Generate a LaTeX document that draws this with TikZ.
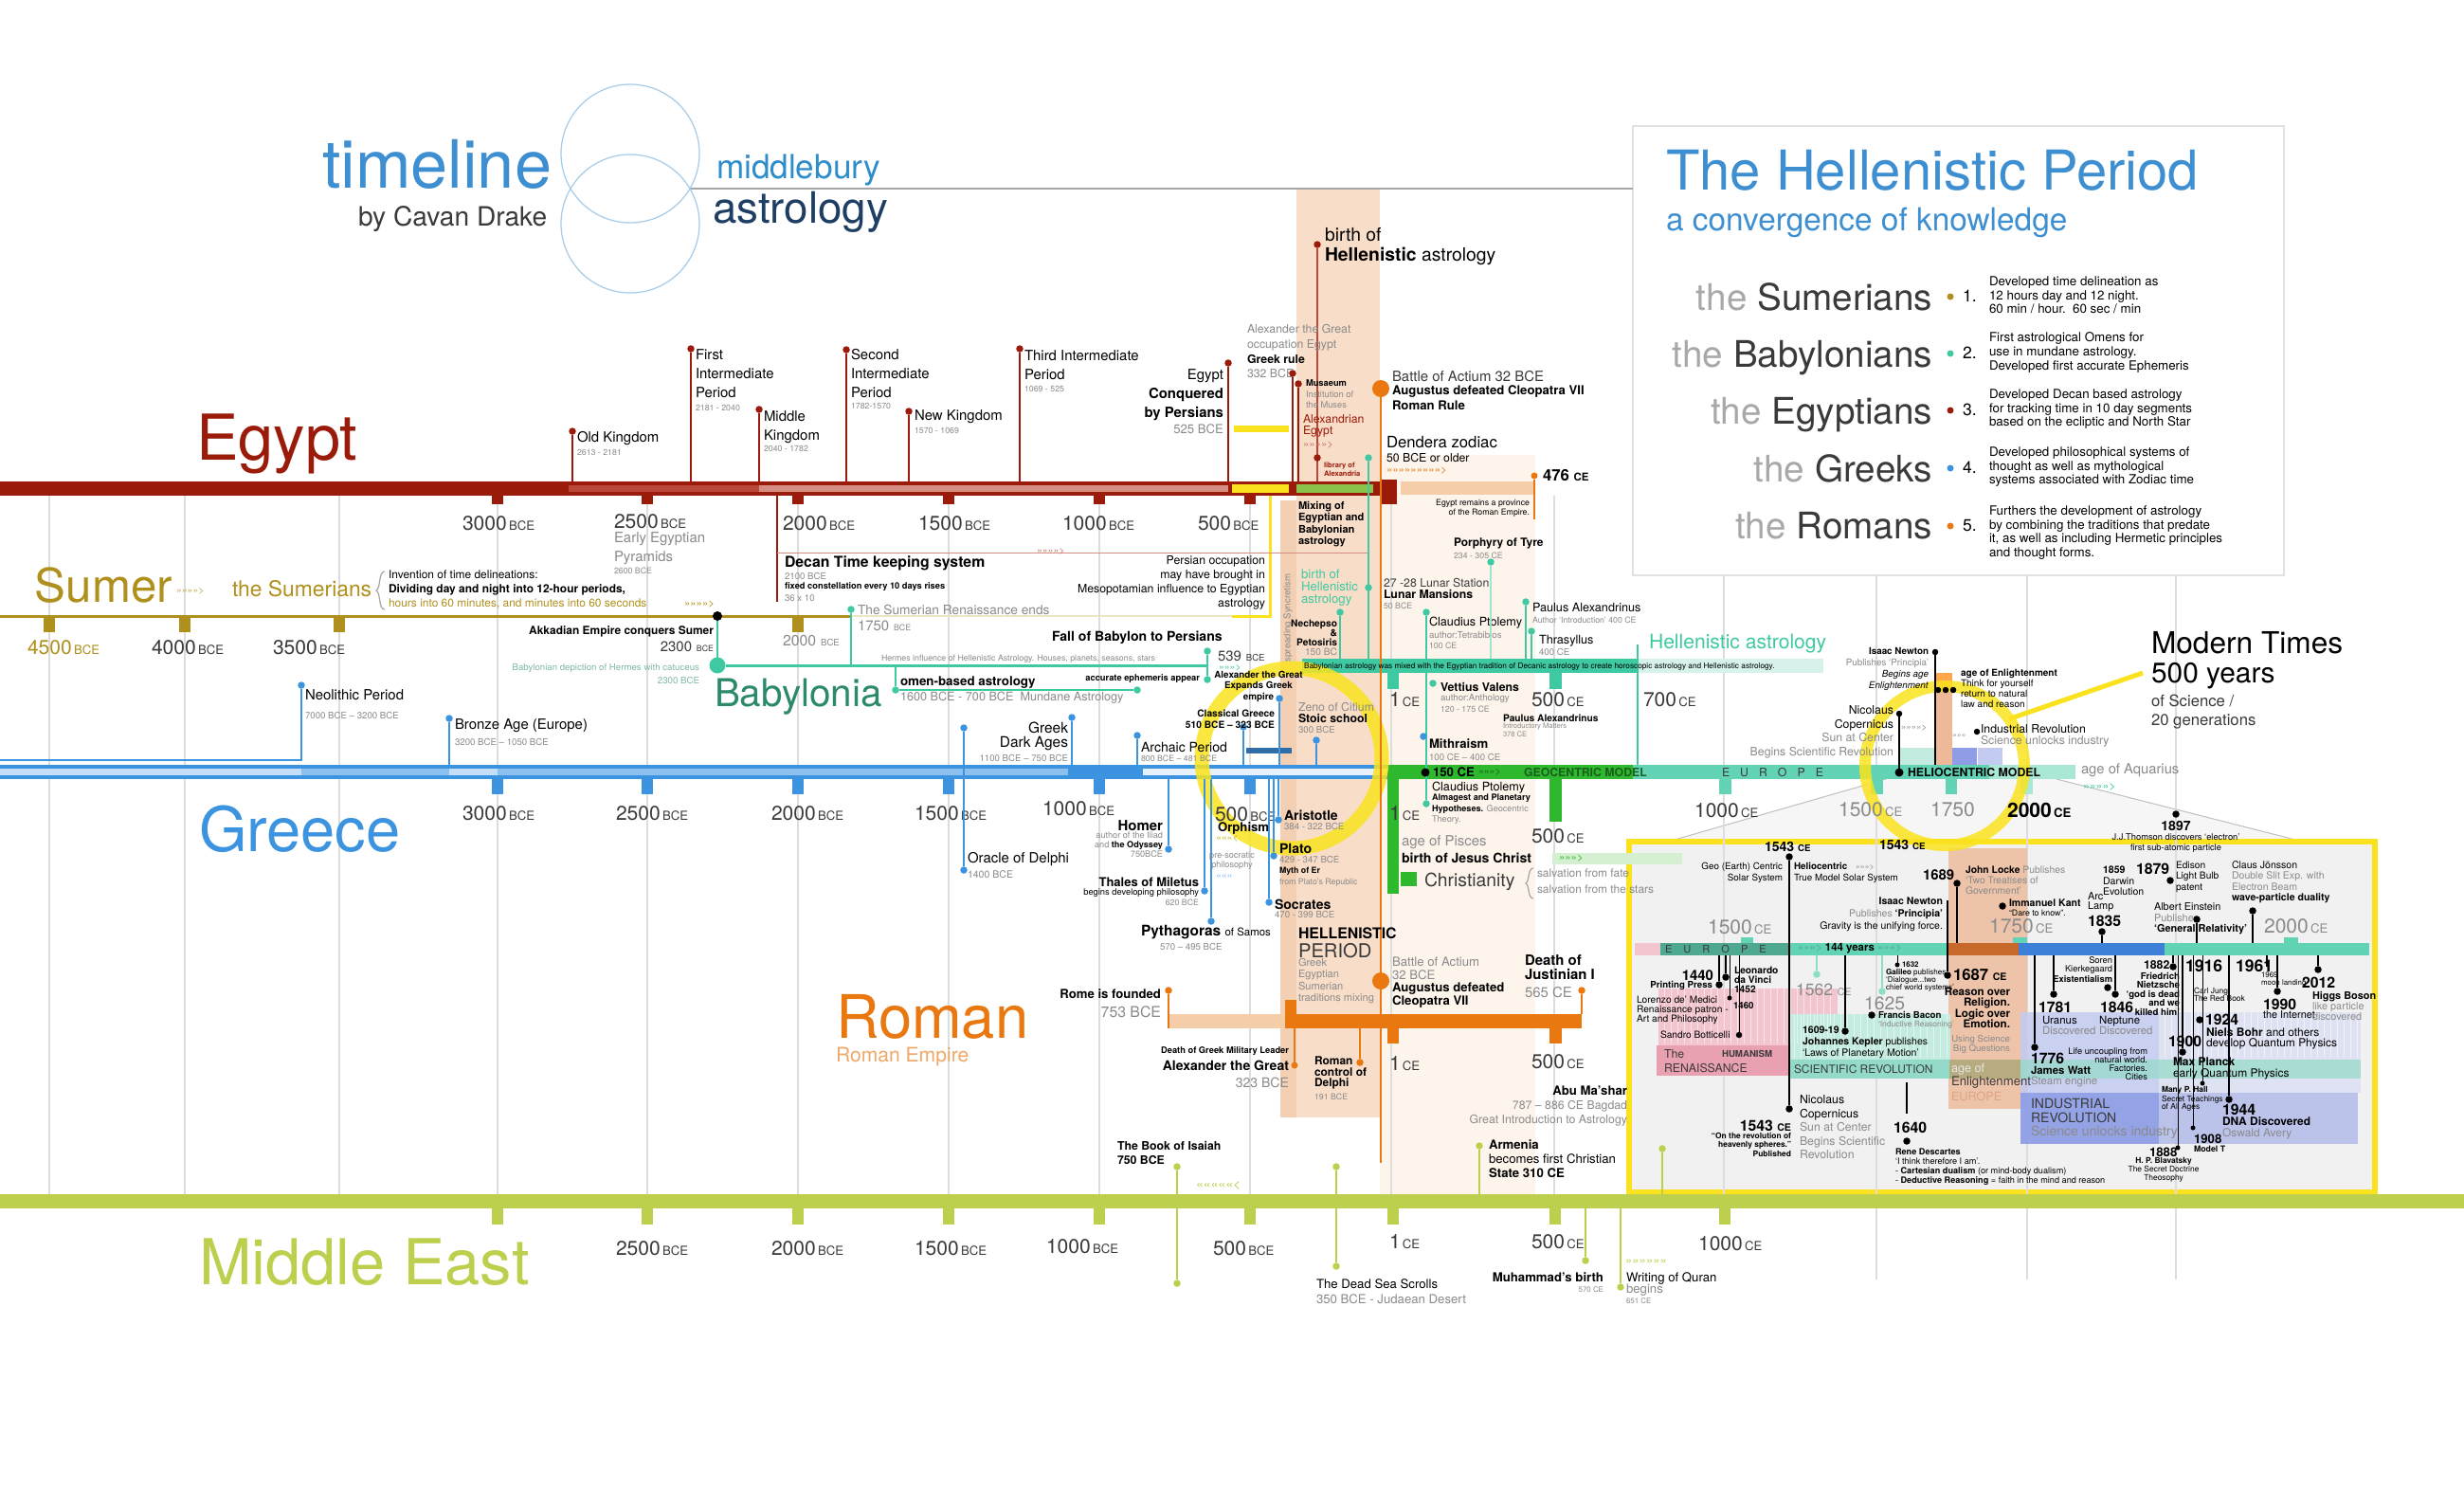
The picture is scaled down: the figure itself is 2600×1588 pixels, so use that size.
\documentclass[tikz,border=0pt]{standalone}
\usepackage{fontspec}
\setmainfont{TeX Gyre Heros}
\usetikzlibrary{positioning}

\definecolor{egypt}{HTML}{9B1B0B}
\definecolor{egyptmid}{HTML}{B9483B}
\definecolor{egyptlt}{HTML}{D58E84}
\definecolor{sumer}{HTML}{B0901C}
\definecolor{sumerpale}{HTML}{EDE4C4}
\definecolor{greece}{HTML}{3C93DF}
\definecolor{greecelt}{HTML}{8CC0EE}
\definecolor{greecepale}{HTML}{C4DFF7}
\definecolor{greecewhite}{HTML}{E6F1FB}
\definecolor{greecedark}{HTML}{2F6FA8}
\definecolor{babyl}{HTML}{3FC9A2}
\definecolor{babyltxt}{HTML}{2B8A68}
\definecolor{babylpale}{HTML}{D6F2EA}
\definecolor{roman}{HTML}{E8780F}
\definecolor{romanlt}{HTML}{F6CDA9}
\definecolor{romantxt}{HTML}{F0A868}
\definecolor{mideast}{HTML}{BDCF4C}
\definecolor{salmon}{HTML}{F8DDC8}
\definecolor{salmondk}{HTML}{F3CFB3}
\definecolor{paleband}{HTML}{FDF4EC}
\definecolor{hgreen}{HTML}{2DB82D}
\definecolor{hgreendk}{HTML}{1B5E1B}
\definecolor{hgreenpale}{HTML}{D5F0D0}
\definecolor{leafgreen}{HTML}{8BC34A}
\definecolor{euroteal}{HTML}{63D3B5}
\definecolor{eurolt}{HTML}{A9E8D7}
\definecolor{eurodark}{HTML}{4FA890}
\definecolor{yellowc}{HTML}{FAE31E}
\definecolor{titleblue}{HTML}{3D8FD1}
\definecolor{midblue}{HTML}{2E8DCB}
\definecolor{astroblue}{HTML}{1F3E63}
\definecolor{circblue}{HTML}{A8CDEA}
\definecolor{gridgray}{HTML}{DDDDDD}
\definecolor{boxgray}{HTML}{E2E2E2}
\definecolor{txtgray}{HTML}{8A8A8A}
\definecolor{ltgray}{HTML}{A8A8A8}
\definecolor{dkgray}{HTML}{3A3A3A}
\definecolor{boxfill}{HTML}{F1F1F1}
\definecolor{trapfill}{HTML}{F6F6F6}
\definecolor{pinkc}{HTML}{F3C6CF}
\definecolor{pinkdk}{HTML}{E9A0B0}
\definecolor{mintc}{HTML}{C3EBDF}
\definecolor{mintdk}{HTML}{93DBC8}
\definecolor{enlsalmon}{HTML}{EDB999}
\definecolor{orangedk}{HTML}{C8692C}
\definecolor{bluebar}{HTML}{3C80D8}
\definecolor{indlt}{HTML}{C3CBF0}
\definecolor{inddk}{HTML}{8F9DE6}
\definecolor{indmid}{HTML}{B3BCEB}
\definecolor{indpale}{HTML}{DCE0F3}
\definecolor{olivec}{HTML}{B7AC80}

\newcommand{\fnt}[2]{\fontsize{#1}{#2}\selectfont}
\newcommand{\yrlab}[2]{{\fnt{12}{12}#1}{\fnt{7.5}{7.5}\,#2}}

\begin{document}
\begin{tikzpicture}[x=0.2mm, y=-0.2mm,
    every node/.style={inner sep=0pt, outer sep=0pt},
    lt/.style={anchor=west},
    rt/.style={anchor=east},
    nw/.style={anchor=north west, align=left},
    ne/.style={anchor=north east, align=right},
    pnt/.style={circle, fill, minimum size=1.5mm},
    sdot/.style={circle, fill, minimum size=1mm},
    bdot/.style={circle, fill, minimum size=3.6mm},
    ln/.style={line width=0.4mm},
    gline/.style={draw=gridgray, line width=0.3mm},
    hatch/.style={draw=white, line width=0.15mm, opacity=0.55},
    brace/.style={draw=ltgray, line width=0.25mm},
    gr/.style={text=txtgray}]

\useasboundingbox (0,0) rectangle (2600,1588);
\fill[white] (0,0) rectangle (2600,1588);

% levels of the bars
\coordinate (egy) at (0,508);
\coordinate (sum) at (0,650);
\coordinate (bab) at (0,702);
\coordinate (mix) at (0,695);
\coordinate (grc) at (0,807);
\coordinate (grcb) at (0,822);
\coordinate (rom) at (0,1070);
\coordinate (romb) at (0,1085);
\coordinate (mde) at (0,1260);
\coordinate (eur) at (0,995);
\coordinate (eurb) at (0,1008);

% background bands
\fill[salmon] (1368,200) rectangle (1456,1179);
\fill[salmondk] (1351,528) rectangle (1368,1179);
\fill[paleband] (1456,480) rectangle (1620,1260);

% hellenistic box
\node[draw=boxgray, line width=0.4mm, fill=white, minimum width=137.4mm, minimum height=94.8mm, anchor=north west] (hbox) at (1723,133) {};

% modern times box
\fill[trapfill] (1760,888) -- (1990,822) -- (2170,822) -- (2430,888) -- cycle;
\draw[gray!50, line width=0.2mm] (1760,888) -- (1990,822);
\draw[gray!50, line width=0.2mm] (2170,822) -- (2430,888);
\node[draw=yellowc, fill=boxfill, line width=1.2mm, minimum width=157.4mm, minimum height=74mm, anchor=north west] (mbox) at (1719,888) {};

% grid
\foreach \gx in {52,195,358,525,683,842,1001,1160,1319,1468,1640}
  \draw[gline] (\gx,523) -- (\gx,1260);
\draw[gline] (1819,607) -- (1819,1260);
\foreach \gx in {1980,2139,2296}
  \draw[gline] (\gx,607) -- (\gx,1350);

% regions inside the modern box
\fill[enlsalmon, opacity=0.8] (2056,895) rectangle (2139,1170);
\fill[pinkc] (1750,1043) rectangle (1939,1135);
\fill[pinkdk] (1748,1103) rectangle (1887,1135);
\fill[mintc] (1889,1070) rectangle (2058,1137);
\fill[mintdk] (1889,1118) rectangle (2058,1138);
\fill[olivec] (2057,1118) rectangle (2132,1138);
\fill[indlt, opacity=0.85] (2132,1068) rectangle (2278,1207);
\fill[inddk, opacity=0.9] (2132,1153) rectangle (2278,1207);
\fill[indpale, opacity=0.85] (2278,1068) rectangle (2491,1153);
\fill[indmid, opacity=0.85] (2278,1153) rectangle (2488,1207);
\fill[mintdk, opacity=0.7] (2132,1118) rectangle (2491,1138);
\foreach \hx in {1756,1763,...,1935}
  \draw[hatch] (\hx,1043) -- (\hx,1101);
\foreach \hx in {1893,1900,...,2054}
  \draw[hatch] (\hx,1070) -- (\hx,1116);
\foreach \hx in {2284,2291,...,2488}
  \draw[hatch] (\hx,1068) -- (\hx,1116);
\fill[pinkc] (1725,995) rectangle (1752,1008);
\fill[eurodark] (1752,995) rectangle (1887,1008);
\fill[euroteal] (1887,995) rectangle (2056,1008);
\fill[orangedk] (2056,995) rectangle (2130,1008);
\fill[bluebar] (2130,995) rectangle (2284,1008);
\fill[euroteal] (2284,995) rectangle (2500,1008);
\fill[euroteal] (1837,989) rectangle (1850,995);
\fill[euroteal] (2124,989) rectangle (2139,995);
\fill[euroteal] (2410,989) rectangle (2425,995);

% Egypt bar
\fill[egypt] (0,508) rectangle (1474,523);
\fill[egyptmid] (600,512) rectangle (801,519);
\fill[egyptlt] (801,512) rectangle (1296,519);
\fill[yellowc] (1300,511) rectangle (1360,520);
\fill[leafgreen] (1368,511) rectangle (1449,520);
\fill[egypt] (1456,506) rectangle (1474,532);
\fill[romanlt] (1478,508) rectangle (1619,522);
\foreach \tx in {525,683,842,1001,1160,1319}
  \fill[egypt] ({\tx-6},523) rectangle ({\tx+6},532);

% Sumer line
\draw[sumer, line width=0.6mm] (0,650) -- (898,650);
\draw[sumerpale, line width=0.4mm] (898,650) -- (1300,650);
\foreach \tx in {52,195,358,842}
  \fill[sumer] ({\tx-6},650) rectangle ({\tx+6},667);

% Greece bar
\fill[greece] (0,807) rectangle (1464,822);
\fill[greecepale] (0,811) rectangle (318,818);
\fill[greecelt] (318,811) rectangle (474,818);
\fill[greecepale] (474,811) rectangle (525,818);
\fill[greecelt] (525,811) rectangle (1127,818);
\fill[greecewhite] (1206,811) rectangle (1464,818);
\foreach \tx in {525,683,842,1001,1160,1319}
  \fill[greece] ({\tx-6},822) rectangle ({\tx+6},838);
\fill[greecedark] (1315,789) rectangle (1363,795);

% geocentric / europe
\fill[hgreen] (1464,807) rectangle (1723,822);
\fill[hgreen] (1464,822) rectangle (1476,943);
\fill[hgreen] (1635,822) rectangle (1648,867);
\fill[euroteal] (1723,807) rectangle (2099,822);
\fill[eurolt] (2099,807) rectangle (2190,822);
\fill[euroteal] (1814,822) rectangle (1827,838);
\fill[euroteal] (1974,822) rectangle (1987,838);
\fill[euroteal] (2053,822) rectangle (2065,838);
\fill[eurolt] (2132,822) rectangle (2145,838);
\fill[mintc] (2004,789) rectangle (2042,807);
\fill[enlsalmon] (2042,710) rectangle (2060,807);
\fill[orange!70] (2042,710) rectangle (2060,728);
\fill[inddk] (2060,789) rectangle (2086,807);
\fill[indlt] (2087,789) rectangle (2113,807);

% mixing bar
\fill[babyl] (1374,695) rectangle (1729,710);
\fill[babylpale] (1729,695) rectangle (1924,710);
\fill[babyl] (1464,710) rectangle (1476,727);
\fill[babyl] (1635,710) rectangle (1648,727);

% Roman bar
\fill[romanlt] (1233,1070) rectangle (1356,1085);
\fill[roman] (1356,1070) rectangle (1669,1085);
\fill[roman] (1356,1055) rectangle (1368,1070);
\fill[roman] (1464,1085) rectangle (1476,1101);
\fill[roman] (1635,1085) rectangle (1648,1101);

% Middle East bar
\fill[mideast] (0,1260) rectangle (2600,1275);
\foreach \tx in {525,683,842,1001,1160,1319,1470,1641,1820}
  \fill[mideast] ({\tx-6},1275) rectangle ({\tx+6},1292);

% yellow marks
\fill[yellowc] (1302,449) rectangle (1360,456);
\draw[yellowc, line width=0.6mm] (1340,523) -- (1340,650) -- (1300,650);
\node[circle, draw=yellowc, line width=3mm, minimum size=38mm, opacity=0.85] (ring1) at (1363,800) {};
\node[circle, draw=yellowc, line width=2.4mm, minimum size=33.6mm, opacity=0.85] (ring2) at (2052,808) {};
\coordinate (mtl) at (2261,710);
\draw[yellowc, line width=1mm] (ring2.36) -- (mtl);

% title
\node[anchor=base west, text=titleblue, font=\fnt{40}{40}] (tl) at (340,198) {timeline};
\node[anchor=base west, text=dkgray, font=\fnt{16}{16}] (by) at (378,238) {by Cavan Drake};
\node[circle, draw=circblue, line width=0.25mm, minimum size=29.2mm] (c1) at (665,162) {};
\node[circle, draw=circblue, line width=0.25mm, minimum size=29.2mm] (c2) at (665,236) {};
\node[anchor=base west, text=midblue, font=\fnt{20}{20}] (mb) at (756,188) {middlebury};
\node[anchor=base west, text=astroblue, font=\fnt{26}{26}] (as) at (752,235) {astrology};
\coordinate (tl0) at (729,199);
\draw[gray!70, line width=0.3mm] (tl0) -- (tl0 -| hbox.west);

% box contents
\node[anchor=base west, text=titleblue, font=\fnt{33}{33}] (hp) at (1758,200) {The Hellenistic Period};
\node[anchor=base west, text=titleblue, font=\fnt{19}{19}] (cv) at (1758,243) {a convergence of knowledge};
\node[anchor=base east, font=\fnt{22}{22}] (p1) at (2039,327) {{\color{ltgray}the} {\color{dkgray}Sumerians}};
\node[anchor=base east, font=\fnt{22}{22}] (p2) at (2039,387) {{\color{ltgray}the} {\color{dkgray}Babylonians}};
\node[anchor=base east, font=\fnt{22}{22}] (p3) at (2039,447) {{\color{ltgray}the} {\color{dkgray}Egyptians}};
\node[anchor=base east, font=\fnt{22}{22}] (p4) at (2039,508) {{\color{ltgray}the} {\color{dkgray}Greeks}};
\node[anchor=base east, font=\fnt{22}{22}] (p5) at (2039,568) {{\color{ltgray}the} {\color{dkgray}Romans}};
\node[circle, fill=sumer, minimum size=1.4mm] (d1) at (2058,313) {};
\node[circle, fill=babyl, minimum size=1.4mm] (d2) at (2058,373) {};
\node[circle, fill=egypt, minimum size=1.4mm] (d3) at (2058,433) {};
\node[circle, fill=greece, minimum size=1.4mm] (d4) at (2058,494) {};
\node[circle, fill=roman, minimum size=1.4mm] (d5) at (2058,555) {};
\node[anchor=base west, font=\fnt{10}{10}] (n1) at (2071,318) {1.};
\node[anchor=base west, font=\fnt{10}{10}] (n2) at (2071,378) {2.};
\node[anchor=base west, font=\fnt{10}{10}] (n3) at (2071,438) {3.};
\node[anchor=base west, font=\fnt{10}{10}] (n4) at (2071,499) {4.};
\node[anchor=base west, font=\fnt{10}{10}] (n5) at (2071,560) {5.};
\node[nw, font=\fnt{7.6}{8.3}] (x1) at (2099,292) {Developed time delineation as\\12 hours day and 12 night.\\60 min / hour.\ \ 60 sec / min};
\node[nw, font=\fnt{7.6}{8.3}] (x2) at (2099,351) {First astrological Omens for\\use in mundane astrology.\\Developed first accurate Ephemeris};
\node[nw, font=\fnt{7.6}{8.3}] (x3) at (2099,411) {Developed Decan based astrology\\for tracking time in 10 day segments\\based on the ecliptic and North Star};
\node[nw, font=\fnt{7.6}{8.3}] (x4) at (2099,472) {Developed philosophical systems of\\thought as well as mythological\\systems associated with Zodiac time};
\node[nw, font=\fnt{7.6}{8.3}] (x5) at (2099,534) {Furthers the development of astrology\\by combining the traditions that predate\\it, as well as including Hermetic principles\\and thought forms.};

% ---- Egypt ----
\node[anchor=base west, text=egypt, font=\fnt{38}{38}] (eg) at (207,485) {Egypt};
\node[pnt, egypt] (ok) at (604,455) {};
\draw[egypt, ln] (ok) -- (ok |- egy);
\node[lt, font=\fnt{8.5}{10}] (okt) at (609,463) {Old Kingdom};
\node[lt, gr, font=\fnt{5}{6}] (oky) at (609,477) {2613 - 2181};
\node[pnt, egypt] (fi) at (729,368) {};
\draw[egypt, ln] (fi) -- (fi |- egy);
\node[nw, font=\fnt{8.5}{11.4}] (fit) at (734,369) {First\\Intermediate\\Period};
\node[lt, gr, font=\fnt{5}{6}] (fiy) at (734,430) {2181 - 2040};
\node[pnt, egypt] (mk) at (801,432) {};
\draw[egypt, ln] (mk) -- (mk |- egy);
\node[nw, font=\fnt{8.5}{11.4}] (mkt) at (806,434) {Middle\\Kingdom};
\node[lt, gr, font=\fnt{5}{6}] (mky) at (806,473) {2040 - 1782};
\node[pnt, egypt] (si) at (893,369) {};
\draw[egypt, ln] (si) -- (si |- egy);
\node[nw, font=\fnt{8.5}{11.4}] (sit) at (898,368) {Second\\Intermediate\\Period};
\node[lt, gr, font=\fnt{5}{6}] (siy) at (898,428) {1782-1570};
\node[pnt, egypt] (nk) at (959,434) {};
\draw[egypt, ln] (nk) -- (nk |- egy);
\node[lt, font=\fnt{8.5}{10}] (nkt) at (965,440) {New Kingdom};
\node[lt, gr, font=\fnt{5}{6}] (nky) at (965,454) {1570 - 1069};
\node[pnt, egypt] (ti) at (1076,368) {};
\draw[egypt, ln] (ti) -- (ti |- egy);
\node[nw, font=\fnt{8.5}{11.4}] (tit) at (1081,370) {Third Intermediate\\Period};
\node[lt, gr, font=\fnt{5}{6}] (tiy) at (1081,410) {1069 - 525};
\node[pnt, egypt] (ep) at (1296,383) {};
\draw[egypt, ln] (ep) -- (ep |- egy);
\node[ne, font=\fnt{8.5}{11.4}] (ept) at (1291,390) {Egypt\\\textbf{Conquered}\\\textbf{by Persians}};
\node[rt, gr, font=\fnt{7.5}{8}] (epy) at (1291,453) {525 BCE};

% birth of Hellenistic astrology
\node[pnt, egypt] (bh) at (1390,258) {};
\draw[egyptmid, ln] (bh) -- (bh |- egy);
\node[nw, font=\fnt{11}{12}] (bht) at (1398,240) {birth of\\\textbf{Hellenistic} astrology};
\node[nw, font=\fnt{7}{9.1}] (alo) at (1316,342) {{\color{txtgray}Alexander the Great}\\{\color{txtgray}occupation Egypt}\\\textbf{Greek rule}};
\node[lt, gr, font=\fnt{7}{8}] (aloy) at (1316,394) {332 BCE};
\node[pnt, egypt] (alp) at (1364,394) {};
\draw[egypt, ln] (alp) -- (alp |- egy);
\node[pnt, egypt] (mus) at (1370,405) {};
\draw[egypt, ln] (mus) -- (mus |- egy);
\node[nw, font=\fnt{5.3}{6.5}] (must) at (1378,401) {\textbf{Musaeum}\\{\color{txtgray}Institution of}\\{\color{txtgray}the Muses}};
\node[nw, text=egypt, font=\fnt{7}{6.8}] (alx) at (1375,438) {Alexandrian\\Egypt};
\node[lt, text=egypt!60, font=\fnt{6.5}{7}] (alxc) at (1375,470) {>>>>>>>>>};
\node[pnt, egypt] (lib) at (1390,483) {};
\node[nw, text=egypt, font=\bfseries\fnt{4.3}{4.8}] (libt) at (1397,488) {library of\\Alexandria};

% Actium, Dendera
\node[bdot, roman] (act1) at (1457,410) {};
\node[bdot, roman] (act2) at (1457,1035) {};
\coordinate (actb) at (1457,1227);
\draw[roman, ln] (act1) -- (act2) -- (actb);
\node[lt, font=\fnt{8.5}{9}] (act1t) at (1469,397) {{\color{dkgray}Battle of Actium 32 BCE}};
\node[nw, font=\bfseries\fnt{7.5}{9.1}] (act1u) at (1469,407) {Augustus defeated Cleopatra VII\\Roman Rule};
\node[lt, font=\fnt{9.5}{10}] (den) at (1463,467) {Dendera zodiac};
\node[lt, font=\fnt{7}{8}] (deny) at (1463,483) {50 BCE or older};
\node[lt, text=roman, font=\fnt{6.5}{7}] (denc) at (1463,497) {>>>>>>>>>>>>>>>>>>>};
\node[pnt, babyl] (tq1) at (1444,483) {};
\draw[babyl, ln] (tq1) -- (tq1 |- mix);
\node[pnt, babyl] (tq2) at (1444,620) {};
\node[sdot, roman, minimum size=1.4mm] (f476) at (1619,502) {};
\coordinate (f476b) at (1619,548);
\draw[roman, ln] (f476) -- (f476b);
\node[lt, font=\bfseries\fnt{9.5}{10}] (f476t) at (1628,502) {476 {\fnt{6.5}{7}CE}};
\node[ne, font=\fnt{5}{5.7}] (erp) at (1614,527) {Egypt remains a province\\of the Roman Empire.};
\node[nw, font=\bfseries\fnt{6.3}{7.1}] (mixt) at (1370,529) {Mixing of\\Egyptian and\\Babylonian\\astrology};

% Decan
\coordinate (dc0) at (820,523);
\coordinate (dc1) at (820,635);
\draw[egypt, ln] (dc0) -- (dc1);
\coordinate (dcl) at (820,583);
\coordinate (dcr) at (1443,583);
\draw[egyptlt, line width=0.2mm] (dcl) -- (dcr);
\node[lt, text=egypt!60, font=\fnt{6}{7}] (dcc) at (1094,582) {>>>>>>>>>};
\node[lt, font=\bfseries\fnt{9}{10}] (dct) at (828,594) {Decan Time keeping system};
\node[lt, gr, font=\fnt{5.5}{6}] (dcy) at (828,608) {2100 BCE};
\node[lt, font=\bfseries\fnt{5.3}{6}] (dcf) at (828,619) {fixed constellation every 10 days rises};
\node[lt, gr, font=\fnt{5.5}{6}] (dcx) at (828,631) {36 x 10};
\node[ne, font=\fnt{7}{8.4}] (pers) at (1335,587) {Persian occupation\\may have brought in\\Mesopotamian influence to Egyptian\\astrology};

% Egypt years
\node[lt, text=dkgray] (ey1) at (488,552) {\yrlab{3000}{BCE}};
\node[lt, text=dkgray] (ey2) at (648,550) {\yrlab{2500}{BCE}};
\node[nw, gr, font=\fnt{8.5}{11.4}] (pyr) at (648,562) {Early Egyptian\\Pyramids};
\node[lt, gr, font=\fnt{5}{6}] (pyry) at (648,602) {2600 BCE};
\node[lt, text=dkgray] (ey3) at (826,552) {\yrlab{2000}{BCE}};
\node[lt, text=dkgray] (ey4) at (969,552) {\yrlab{1500}{BCE}};
\node[lt, text=dkgray] (ey5) at (1121,552) {\yrlab{1000}{BCE}};
\node[lt, text=dkgray] (ey6) at (1264,552) {\yrlab{500}{BCE}};

% Hellenistic mixing area
\node[nw, text=babyl, font=\fnt{7.5}{7.4}] (bha) at (1373,601) {birth of\\Hellenistic\\astrology};
\node[rotate=90, gr, font=\fnt{5.5}{6}] (syn) at (1359,652) {spreading Syncretism};
\node[pnt, babyl] (nec) at (1414,646) {};
\draw[babyl, ln] (nec) -- (nec |- mix);
\node[ne, font=\fnt{5.8}{5.7}] (nect) at (1411,654) {\textbf{Nechepso}\\\textbf{\&}\\\textbf{Petosiris}\\{\color{txtgray}150 BC}};
\node[lt, text=dkgray, font=\fnt{7}{8}] (lun1) at (1460,615) {27 -28 Lunar Station};
\node[lt, font=\bfseries\fnt{7}{8}] (lun2) at (1460,627) {Lunar Mansions};
\node[lt, gr, font=\fnt{5}{6}] (lun3) at (1460,639) {50 BCE};
\node[pnt, babyl] (cp1) at (1505,646) {};
\node[pnt, babyl] (cp2) at (1505,848) {};
\draw[babyl, ln] (cp1) -- (cp2);
\node[lt, font=\fnt{7.2}{8}] (cp1t) at (1508,657) {Claudius Ptolemy};
\node[lt, gr, font=\fnt{5.5}{6}] (cp1a) at (1508,670) {author:Tetrabiblos};
\node[lt, gr, font=\fnt{5}{6}] (cp1y) at (1508,681) {100 CE};
\node[pnt, babyl] (pa1) at (1610,635) {};
\draw[babyl, ln] (pa1) -- (pa1 |- mix);
\node[lt, font=\fnt{7.2}{8}] (pa1t) at (1617,641) {Paulus Alexandrinus};
\node[lt, gr, font=\fnt{5}{6}] (pa1a) at (1617,654) {Author ‘Introduction’ 400 CE};
\node[pnt, babyl] (thr) at (1616,666) {};
\draw[babyl, ln] (thr) -- (thr |- mix);
\node[lt, font=\fnt{7.2}{8}] (thrt) at (1624,676) {Thrasyllus};
\node[lt, gr, font=\fnt{5.5}{6}] (thry) at (1624,688) {400 CE};
\node[lt, font=\bfseries\fnt{6.8}{7.5}] (por) at (1534,573) {Porphyry of Tyre};
\node[lt, gr, font=\fnt{5}{6}] (pory) at (1534,586) {234 - 305 CE};
\node[pnt, babyl] (porp) at (1573,593) {};
\draw[babyl!50, ln] (porp) -- (porp |- mix);
\node[lt, text=babyl, font=\fnt{12}{13}] (hla) at (1740,679) {Hellenistic astrology};
\coordinate (ha) at (1728,680);
\draw[babyl, ln] (ha) -- (ha |- grc);
\node[lt, font=\fnt{4.7}{5}] (mixx) at (1376,703) {Babylonian astrology was mixed with the Egyptian tradition of Decanic astrology to create horoscopic astrology and Hellenistic astrology.};
\node[lt, text=dkgray] (my1) at (1466,738) {\yrlab{1}{CE}};
\node[lt, text=dkgray] (my2) at (1616,738) {\yrlab{500}{CE}};
\node[lt, text=dkgray] (my3) at (1734,738) {\yrlab{700}{CE}};
\node[pnt, babyl] (vv) at (1512,721) {};
\node[lt, font=\bfseries\fnt{7}{8}] (vvt) at (1520,725) {Vettius Valens};
\node[lt, gr, font=\fnt{5.5}{6}] (vva) at (1520,737) {author:Anthology};
\node[lt, gr, font=\fnt{5}{6}] (vvy) at (1520,748) {120 - 175 CE};
\node[lt, font=\bfseries\fnt{5.8}{6}] (pa2) at (1586,758) {Paulus Alexandrinus};
\node[lt, gr, font=\fnt{4.3}{5}] (pa2a) at (1586,767) {Introductory Matters};
\node[lt, gr, font=\fnt{4.3}{5}] (pa2y) at (1586,775) {378 CE};
\node[lt, gr, font=\fnt{7}{8}] (zen) at (1370,746) {Zeno of Citium};
\node[lt, font=\bfseries\fnt{7}{8}] (zens) at (1370,758) {Stoic school};
\node[lt, gr, font=\fnt{5.5}{6}] (zeny) at (1370,770) {300 BCE};
\node[pnt, greece] (zenp) at (1389,781) {};
\draw[greece, ln] (zenp) -- (zenp |- grc);
\node[pnt, greece] (mit) at (1502,777) {};
\node[lt, font=\bfseries\fnt{7.5}{8}] (mitt) at (1508,785) {Mithraism};
\node[lt, gr, font=\fnt{5.5}{6}] (mity) at (1508,799) {100 CE – 400 CE};
\node[pnt, greece] (clg) at (1312,767) {};
\draw[greece, ln] (clg) -- (clg |- grc);
\node[ne, font=\bfseries\fnt{5.8}{6.8}] (clgt) at (1345,749) {Classical Greece\\510 BCE – 323 BCE};
\node[anchor=north, align=center, font=\bfseries\fnt{5.6}{6.6}] (axe) at (1328,708) {Alexander the Great\\Expands Greek\\empire};
\node[pnt, greece] (axep) at (1350,737) {};
\draw[greece, ln] (axep) -- (axep |- grc);
\node[lt, text=dkgray] (f539) at (1285,692) {{\fnt{8.5}{9}539} {\fnt{5.5}{6}BCE}};
\node[lt, text=babyl, font=\fnt{6}{7}] (f539c) at (1286,705) {>>>>>>>};

% geocentric / heliocentric
\node[pnt, black, minimum size=1.8mm] (geo1) at (1504,815) {};
\node[lt, font=\bfseries\fnt{7.5}{8}] (geo1t) at (1512,815) {150 CE};
\node[lt, text=hgreendk, font=\fnt{6}{7}] (geoc) at (1560,815) {>>>>>>>};
\node[lt, text=hgreendk, font=\bfseries\fnt{7}{8}] (geot) at (1608,815) {GEOCENTRIC MODEL};
\node[lt, text=dkgray, font=\fnt{7}{8}] (eut) at (1817,815) {E\hspace{2.2mm}U\hspace{2.2mm}R\hspace{2.2mm}O\hspace{2.2mm}P\hspace{2.2mm}E};
\node[pnt, black, minimum size=1.8mm] (hel1) at (2004,815) {};
\node[lt, font=\bfseries\fnt{7}{8}] (helt) at (2013,815) {HELIOCENTRIC MODEL};
\node[sdot, black, minimum size=1.3mm] (cop1) at (2004,753) {};
\draw[black, line width=0.25mm] (cop1) -- (hel1);
\node[ne, font=\fnt{7}{8.25}] (cop1t) at (1998,745) {Nicolaus\\Copernicus\\{\color{txtgray}Sun at Center}\\{\color{txtgray}Begins Scientific Revolution}};
\node[lt, gr, font=\fnt{5.5}{6}] (cop1c) at (2006,768) {>>>>>>>>>};
\node[lt, gr, font=\fnt{8.4}{9}] (aqu) at (2196,813) {age of Aquarius};
\node[lt, text=babyl, font=\fnt{7}{8}] (aquc) at (2198,830) {>>>>>>>>>};
\node[lt, text=dkgray] (gy1) at (1788,855) {\yrlab{1000}{CE}};
\node[lt, text=txtgray] (gy2) at (1940,854) {\yrlab{1500}{CE}};
\node[lt, text=txtgray] (gy3) at (2037,854) {\fnt{12}{12}1750};
\node[lt, font=\bfseries] (gy4) at (2118,855) {\yrlab{2000}{CE}};
\node[lt, font=\fnt{18}{19}] (mt1) at (2270,678) {Modern Times};
\node[lt, font=\fnt{17}{18}] (mt2) at (2270,713) {500 years};
\node[lt, text=dkgray, font=\fnt{9.5}{10}] (mt3) at (2270,739) {of Science /};
\node[lt, text=dkgray, font=\fnt{9.5}{10}] (mt4) at (2270,761) {20 generations};
\node[sdot, black, minimum size=1.3mm] (newt) at (2042,688) {};
\draw[black, line width=0.25mm] (newt) -- (newt |- grc);
\node[ne, font=\fnt{5.6}{6.8}] (newtt) at (2035,683) {\textbf{Isaac Newton}\\{\color{txtgray}Publishes ‘Principia’}\\\textit{Begins age}\\\textit{Enlightenment}};
\node[sdot, black, minimum size=1.3mm] (en1) at (2045,728) {};
\node[sdot, black, minimum size=1.3mm] (en2) at (2053,728) {};
\node[sdot, black, minimum size=1.3mm] (en3) at (2061,728) {};
\node[nw, font=\fnt{5.7}{6.3}] (ent) at (2069,706) {\textbf{age of Enlightenment}\\Think for yourself\\return to natural\\law and reason};
\node[sdot, black, minimum size=1.3mm] (ind) at (2086,772) {};
\node[lt, font=\fnt{7}{8}] (indt) at (2090,769) {Industrial Revolution};
\node[lt, gr, font=\fnt{7}{8}] (inds) at (2090,782) {Science unlocks industry};
\node[lt, gr, font=\fnt{5}{6}] (indc) at (2060,777) {>>>>>>};
\node[pnt, black] (t97) at (2296,859) {};
\node[anchor=north, font=\bfseries\fnt{8}{8}] (t97t) at (2296,866) {1897};
\node[anchor=north, align=center, font=\fnt{5.3}{6.3}] (t97a) at (2296,880) {J.J.Thomson discovers ‘electron’\\first sub-atomic particle};

% ---- Sumer / Babylonia ----
\node[anchor=base west, text=sumer, font=\fnt{28}{28}] (sm) at (37,635) {Sumer};
\node[lt, text=sumer!80, font=\fnt{6}{7}] (smc) at (186,624) {>>>>>>>>>};
\node[anchor=base west, text=sumer, font=\fnt{13}{13}] (smt) at (245,629) {the Sumerians};
\draw[brace] (406,603) .. controls (399,603) and (402,621) .. (397,623) .. controls (402,625) and (399,643) .. (406,643);
\node[nw, font=\fnt{6.8}{8.5}] (inv) at (410,602) {Invention of time delineations:\\\textbf{Dividing day and night into 12-hour periods,}\\{\color{sumer}hours into 60 minutes, and minutes into 60 seconds}};
\node[lt, text=sumer, font=\fnt{6.5}{7}] (invc) at (722,638) {>>>>>>>>>};
\node[lt, text=sumer] (sy1) at (29,683) {\yrlab{4500}{BCE}};
\node[lt, text=dkgray] (sy2) at (160,683) {\yrlab{4000}{BCE}};
\node[lt, text=dkgray] (sy3) at (288,683) {\yrlab{3500}{BCE}};
\node[lt, gr] (sy4) at (826,676) {{\fnt{9}{9}2000} {\fnt{5.5}{6}BCE}};
\node[pnt, black, minimum size=2mm] (akk) at (757,650) {};
\node[rt, font=\bfseries\fnt{6.8}{7.5}] (akkt) at (753,666) {Akkadian Empire conquers Sumer};
\node[rt, text=dkgray] (akky) at (753,682) {{\fnt{8.5}{9}2300} {\fnt{5}{6}BCE}};
\node[rt, text=babyltxt!60, font=\fnt{5.5}{6}] (herm) at (738,705) {Babylonian depiction of Hermes with catuceus};
\node[rt, text=babyltxt!60, font=\fnt{5.5}{6}] (hermy) at (738,718) {2300 BCE};
\node[bdot, babyl, minimum size=3.4mm] (bbd) at (757,702) {};
\draw[babyl, ln] (akk) -- (bbd);
\coordinate (bab1) at (1274,702);
\draw[babyl, line width=0.6mm] (bbd) -- (bab1);
\node[anchor=base west, text=babyltxt, font=\fnt{23}{23}] (bbt) at (754,745) {Babylonia};
\node[pnt, babyl] (srp) at (898,643) {};
\draw[babyl, ln] (srp) -- (srp |- bab);
\node[lt, gr, font=\fnt{7.8}{8.5}] (srt) at (905,643) {The Sumerian Renaissance ends};
\node[lt, gr] (sry) at (905,660) {{\fnt{8.5}{9}1750} {\fnt{5}{6}BCE}};
\node[lt, gr, font=\fnt{5}{6}] (hmi) at (930,695) {Hermes influence of Hellenistic Astrology. Houses, planets, seasons, stars};
\coordinate (om0) at (945,702);
\node[pnt, babyl] (om1) at (945,728) {};
\node[pnt, babyl] (om2) at (1200,728) {};
\draw[babyl, ln] (om0) -- (om1) -- (om2);
\node[lt, font=\bfseries\fnt{7.6}{8.5}] (omt) at (950,720) {omen-based astrology};
\node[lt, gr, font=\fnt{7.2}{8}] (omy) at (950,736) {1600 BCE - 700 BCE\ \ Mundane Astrology};
\node[pnt, babyl] (fob) at (1274,687) {};
\node[pnt, babyl] (acc) at (1274,717) {};
\draw[babyl, ln] (fob) -- (acc);
\node[rt, font=\bfseries\fnt{5.3}{6}] (acct) at (1266,716) {accurate ephemeris appear};
\node[lt, font=\bfseries\fnt{8}{9}] (fobt) at (1110,673) {Fall of Babylon to Persians};

% ---- Greece ----
\node[anchor=base west, text=greece, font=\fnt{37}{37}] (gc) at (210,898) {Greece};
\node[pnt, greece] (neo) at (318,723) {};
\coordinate (neo1) at (318,802);
\coordinate (neo0) at (0,802);
\draw[greece, ln] (neo) -- (neo1) -- (neo0);
\node[lt, font=\fnt{8.5}{9}] (neot) at (322,733) {Neolithic Period};
\node[lt, gr, font=\fnt{5.5}{6}] (neoy) at (322,755) {7000 BCE – 3200 BCE};
\node[pnt, greece] (brz) at (474,758) {};
\draw[greece, ln] (brz) -- (brz |- grc);
\node[lt, font=\fnt{8.5}{9}] (brzt) at (480,766) {Bronze Age (Europe)};
\node[lt, gr, font=\fnt{5.5}{6}] (brzy) at (480,783) {3200 BCE – 1050 BCE};
\node[lt, text=dkgray] (gly1) at (488,858) {\yrlab{3000}{BCE}};
\node[lt, text=dkgray] (gly2) at (650,858) {\yrlab{2500}{BCE}};
\node[lt, text=dkgray] (gly3) at (814,858) {\yrlab{2000}{BCE}};
\node[lt, text=dkgray] (gly4) at (965,858) {\yrlab{1500}{BCE}};
\node[lt, text=dkgray] (gly5) at (1100,853) {\yrlab{1000}{BCE}};
\node[lt, text=dkgray] (gly6) at (1282,859) {\yrlab{500}{BCE}};
\node[lt, text=dkgray] (gly7) at (1466,858) {\yrlab{1}{CE}};
\node[lt, text=dkgray] (gly8) at (1616,882) {\yrlab{500}{CE}};
\node[pnt, greece] (gda) at (1131,757) {};
\draw[greece, ln] (gda) -- (gda |- grc);
\node[ne, font=\fnt{8.8}{8.5}] (gdat) at (1127,762) {Greek\\Dark Ages};
\node[rt, gr, font=\fnt{5.5}{6}] (gday) at (1127,800) {1100 BCE – 750 BCE};
\node[pnt, greece] (orc1) at (1017,768) {};
\node[pnt, greece] (orc2) at (1017,918) {};
\draw[greece, ln] (orc1) -- (orc2);
\node[lt, font=\fnt{8.5}{9}] (orct) at (1021,907) {Oracle of Delphi};
\node[lt, gr, font=\fnt{6}{7}] (orcy) at (1021,923) {1400 BCE};
\node[pnt, greece] (arc) at (1200,776) {};
\draw[greece, ln] (arc) -- (arc |- grc);
\node[lt, font=\fnt{8}{9}] (arct) at (1204,788) {Archaic Period};
\node[lt, gr, font=\fnt{5}{6}] (arcy) at (1204,800) {800 BCE – 481 BCE};
\node[pnt, greece] (hom) at (1233,896) {};
\draw[greece, ln] (hom) -- (hom |- grcb);
\node[rt, font=\bfseries\fnt{8.5}{9}] (homt) at (1227,871) {Homer};
\node[ne, font=\fnt{5.2}{5.7}] (homa) at (1227,878) {{\color{txtgray}author of the Iliad}\\{\color{txtgray}and} \textbf{the Odyssey}\\{\color{txtgray}750BCE}};
\node[pnt, greece] (tha) at (1271,940) {};
\draw[greece, ln] (tha) -- (tha |- grcb);
\node[rt, font=\bfseries\fnt{7.4}{8}] (that) at (1265,931) {Thales of Miletus};
\node[rt, font=\fnt{5.3}{6}] (thaa) at (1265,942) {begins developing philosophy};
\node[rt, gr, font=\fnt{5}{6}] (thay) at (1265,952) {620 BCE};
\node[pnt, greece] (pyt) at (1278,972) {};
\draw[greece, ln] (pyt) -- (pyt |- grcb);
\node[lt, font=\fnt{8.8}{9}] (pytt) at (1204,984) {\textbf{Pythagoras} {\fnt{6.5}{7}of Samos}};
\node[lt, gr, font=\fnt{5.5}{6}] (pyty) at (1224,999) {570 – 495 BCE};
\node[lt, font=\bfseries\fnt{7.5}{8}] (orp) at (1285,874) {Orphism};
\node[lt, text=yellowc!80!black, font=\fnt{6}{7}] (orpc) at (1283,885) {<<<<<<<};
\node[anchor=north, align=center, gr, font=\fnt{5.2}{5.7}] (pre) at (1300,899) {pre-socratic\\philosophy};
\node[lt, text=greece!60, font=\fnt{6}{7}] (prec) at (1283,925) {<<<<<<};
\node[pnt, greece] (ari) at (1349,865) {};
\draw[greece, ln] (ari) -- (ari |- grcb);
\node[lt, font=\bfseries\fnt{8}{9}] (arit) at (1355,860) {Aristotle};
\node[lt, gr, font=\fnt{5.5}{6}] (ariy) at (1355,872) {384 - 322 BCE};
\node[pnt, greece] (pla) at (1344,903) {};
\draw[greece, ln] (pla) -- (pla |- grcb);
\node[lt, font=\bfseries\fnt{8}{9}] (plat) at (1350,895) {Plato};
\node[lt, gr, font=\fnt{5.5}{6}] (play) at (1350,907) {429 - 347 BCE};
\node[lt, font=\bfseries\fnt{5}{6}] (plam) at (1350,919) {Myth of Er};
\node[lt, gr, font=\fnt{5}{6}] (plar) at (1350,931) {from Plato’s Republic};
\node[pnt, greece] (soc) at (1339,952) {};
\draw[greece, ln] (soc) -- (soc |- grcb);
\node[lt, font=\bfseries\fnt{8}{9}] (soct) at (1345,954) {Socrates};
\node[lt, gr, font=\fnt{5.5}{6}] (socy) at (1345,965) {470 - 399 BCE};
\node[lt, font=\fnt{7.2}{8}] (cp2t) at (1511,831) {Claudius Ptolemy};
\node[nw, font=\fnt{5.2}{6.5}] (cp2a) at (1511,838) {\textbf{Almagest and Planetary}\\\textbf{Hypotheses.} {\color{txtgray}Geocentric}\\{\color{txtgray}Theory.}};
\node[lt, gr, font=\fnt{8.5}{9}] (pis) at (1479,889) {age of Pisces};
\node[lt, font=\bfseries\fnt{8}{9}] (jes) at (1479,905) {birth of Jesus Christ};
\fill[hgreenpale] (1638,900) rectangle (1775,912);
\node[lt, text=hgreen, font=\fnt{6.5}{7}] (jesc) at (1645,906) {>>>>>>>};
\fill[hgreen] (1478,920) rectangle (1495,935);
\node[lt, text=dkgray, font=\fnt{11}{12}] (chr) at (1503,930) {Christianity};
\draw[brace] (1618,916) .. controls (1612,916) and (1614,930) .. (1610,932) .. controls (1614,934) and (1612,948) .. (1618,948);
\node[nw, gr, font=\fnt{6.8}{9.7}] (sal) at (1622,917) {salvation from fate\\salvation from the stars};

% ---- Roman ----
\node[anchor=base west, text=roman, font=\fnt{36}{36}] (rm) at (882,1095) {Roman};
\node[anchor=base west, text=romantxt, font=\fnt{12}{12}] (rme) at (882,1120) {Roman Empire};
\node[pnt, roman] (rf) at (1233,1045) {};
\draw[roman, ln] (rf) -- (rf |- romb);
\node[rt, font=\bfseries\fnt{7.5}{8}] (rft) at (1225,1049) {Rome is founded};
\node[rt, gr, font=\fnt{9}{9}] (rfy) at (1225,1068) {753 BCE};
\node[sdot, roman, minimum size=1.4mm] (agd) at (1366,1124) {};
\draw[roman, ln] (agd) -- (agd |- romb);
\node[rt, font=\bfseries\fnt{5.3}{6}] (agdt) at (1360,1109) {Death of Greek Military Leader};
\node[rt, font=\bfseries\fnt{8}{9}] (agdn) at (1360,1124) {Alexander the Great};
\node[rt, gr, font=\fnt{8}{9}] (agdy) at (1360,1142) {323 BCE};
\node[lt, font=\bfseries\fnt{9}{10}] (hpd1) at (1370,985) {HELLENISTIC};
\node[lt, text=dkgray, font=\fnt{11.5}{12}] (hpd2) at (1370,1003) {PERIOD};
\node[nw, gr, font=\fnt{6.3}{7.1}] (hpd3) at (1370,1011) {Greek\\Egyptian\\Sumerian\\traditions mixing};
\node[nw, font=\fnt{7.5}{7.7}] (act2t) at (1469,1010) {{\color{txtgray}Battle of Actium}\\{\color{txtgray}32 BCE}\\\textbf{Augustus defeated}\\\textbf{Cleopatra VII}};
\node[nw, font=\bfseries\fnt{8.5}{8.5}] (jus) at (1609,1008) {Death of\\Justinian I};
\node[lt, gr, font=\fnt{8.5}{9}] (jusy) at (1609,1047) {565 CE};
\node[pnt, roman] (jusp) at (1669,1045) {};
\draw[roman, ln] (jusp) -- (jusp |- rom);
\node[pnt, roman] (rcd) at (1435,1121) {};
\draw[roman, ln] (rcd) -- (rcd |- romb);
\node[nw, font=\bfseries\fnt{6.8}{6.5}] (rcdt) at (1387,1115) {Roman\\control of\\Delphi};
\node[lt, gr, font=\fnt{5}{6}] (rcdy) at (1387,1157) {191 BCE};
\node[lt, text=dkgray] (ry1) at (1466,1122) {\yrlab{1}{CE}};
\node[lt, text=dkgray] (ry2) at (1616,1120) {\yrlab{500}{CE}};
\node[rt, font=\bfseries\fnt{7.5}{8}] (abu) at (1717,1151) {Abu Ma’shar};
\node[rt, gr, font=\fnt{7}{8}] (abuy) at (1717,1167) {787 – 886 CE Bagdad};
\node[rt, gr, font=\fnt{7}{8}] (abug) at (1717,1182) {Great Introduction to Astrology};
\node[pnt, mideast] (arm) at (1561,1209) {};
\draw[mideast, ln] (arm) -- (arm |- mde);
\node[nw, font=\fnt{7.5}{8.5}] (armt) at (1571,1203) {\textbf{Armenia}\\becomes first Christian\\\textbf{State 310 CE}};

% ---- Middle East ----
\node[anchor=base west, text=mideast, font=\fnt{38}{38}] (me) at (210,1355) {Middle East};
\node[pnt, mideast] (dss1) at (1410,1231) {};
\node[pnt, mideast] (dss2) at (1410,1336) {};
\draw[mideast, ln] (dss1) -- (dss2);
\node[lt, font=\fnt{7.5}{8}] (dsst) at (1389,1355) {The Dead Sea Scrolls};
\node[lt, gr, font=\fnt{7.5}{8}] (dssy) at (1389,1371) {350 BCE - Judaean Desert};
\node[pnt, mideast] (isa1) at (1242,1231) {};
\node[pnt, mideast] (isa2) at (1242,1354) {};
\draw[mideast, ln] (isa1) -- (isa2);
\node[nw, font=\bfseries\fnt{7}{8.5}] (isat) at (1179,1204) {The Book of Isaiah\\750 BCE};
\node[lt, text=mideast, font=\fnt{8}{9}] (mec) at (1262,1251) {<<<<<<<<<<<};
\coordinate (mh0) at (1673,1275);
\node[pnt, mideast] (mh1) at (1673,1330) {};
\draw[mideast, ln] (mh0) -- (mh1);
\node[rt, font=\bfseries\fnt{7.5}{8}] (mht) at (1692,1348) {Muhammad’s birth};
\node[rt, gr, font=\fnt{4.5}{5}] (mhy) at (1692,1361) {570 CE};
\coordinate (qr0) at (1710,1275);
\node[pnt, mideast] (qr1) at (1710,1358) {};
\draw[mideast, ln] (qr0) -- (qr1);
\node[lt, text=mideast, font=\fnt{7.5}{8}] (qrc) at (1715,1332) {>>>>>>>>>>>>};
\node[lt, font=\fnt{7.5}{8}] (qrt) at (1716,1349) {Writing of Quran};
\node[lt, gr, font=\fnt{7.5}{8}] (qrb) at (1716,1361) {begins};
\node[lt, gr, font=\fnt{4.5}{5}] (qry) at (1716,1373) {651 CE};
\node[pnt, mideast] (mep) at (1754,1212) {};
\draw[mideast, ln] (mep) -- (mep |- mde);
\node[lt, text=dkgray] (mey1) at (650,1317) {\yrlab{2500}{BCE}};
\node[lt, text=dkgray] (mey2) at (814,1317) {\yrlab{2000}{BCE}};
\node[lt, text=dkgray] (mey3) at (965,1317) {\yrlab{1500}{BCE}};
\node[lt, text=dkgray] (mey4) at (1104,1315) {\yrlab{1000}{BCE}};
\node[lt, text=dkgray] (mey5) at (1280,1317) {\yrlab{500}{BCE}};
\node[lt, text=dkgray] (mey6) at (1466,1310) {\yrlab{1}{CE}};
\node[lt, text=dkgray] (mey7) at (1616,1310) {\yrlab{500}{CE}};
\node[lt, text=dkgray] (mey8) at (1792,1312) {\yrlab{1000}{CE}};

% ---- modern times box contents ----
\node[lt, font=\bfseries\fnt{8}{8}] (m43a) at (1862,893) {1543 {\fnt{5.5}{6}CE}};
\node[lt, font=\bfseries\fnt{8}{8}] (m43b) at (1983,891) {1543 {\fnt{5.5}{6}CE}};
\node[pnt, black] (cop2) at (1888,904) {};
\node[pnt, black] (cop3) at (1888,1170) {};
\draw[black, line width=0.25mm] (cop2) -- (cop3);
\node[ne, font=\fnt{5.6}{6.8}] (geoc2) at (1881,910) {Geo (Earth) Centric\\Solar System};
\node[nw, font=\fnt{5.6}{6.8}] (helc2) at (1893,910) {\textbf{Heliocentric}\\True Model Solar System};
\node[lt, gr, font=\fnt{5}{6}] (mch1) at (1958,915) {>>>>>>>};
\node[lt, font=\bfseries\fnt{8.5}{9}] (loc) at (2029,923) {1689};
\node[pnt, black] (locp) at (2065,932) {};
\draw[black, line width=0.25mm] (locp) -- (locp |- eur);
\node[nw, font=\fnt{5.9}{6.3}] (loct) at (2074,914) {\textbf{John Locke} {\color{txtgray}Publishes}\\{\color{txtgray}‘Two Treatises of}\\{\color{txtgray}Government’}};
\node[nw, font=\fnt{6}{6.5}] (dar) at (2219,914) {\textbf{1859}\\Darwin\\Evolution};
\node[lt, font=\bfseries\fnt{9}{10}] (edi) at (2254,917) {1879};
\node[nw, font=\fnt{5.8}{6.5}] (edit) at (2296,909) {Edison\\Light Bulb\\patent};
\node[pnt, black] (edip) at (2290,929) {};
\node[nw, font=\fnt{6}{6.3}] (cla) at (2355,909) {Claus Jönsson\\{\color{txtgray}Double Slit Exp. with}\\{\color{txtgray}Electron Beam}\\\textbf{wave-particle duality}};
\node[pnt, black] (clap) at (2377,961) {};
\draw[black, line width=0.25mm] (clap) -- (clap |- eur);
\node[ne, font=\fnt{6}{7.4}] (nwt2) at (2050,947) {\textbf{Isaac Newton}\\{\color{txtgray}Publishes} \textbf{‘Principia’}\\Gravity is the unifying force.};
\node[pnt, black] (kan) at (2113,956) {};
\node[lt, font=\bfseries\fnt{6}{7}] (kant) at (2120,953) {Immanuel Kant};
\node[lt, font=\fnt{5}{6}] (kanq) at (2120,963) {“Dare to know”.};
\node[lt, text=txtgray] (by1) at (1802,978) {\yrlab{1500}{CE}};
\node[lt, text=txtgray] (by2) at (2099,977) {\yrlab{1750}{CE}};
\node[lt, text=txtgray] (by3) at (2389,977) {\yrlab{2000}{CE}};
\node[nw, font=\fnt{6.2}{5.5}] (arl) at (2203,942) {Arc\\Lamp};
\node[lt, font=\bfseries\fnt{9}{9}] (arly) at (2203,972) {1835};
\node[pnt, black] (arlp) at (2218,983) {};
\draw[black, line width=0.25mm] (arlp) -- (arlp |- eur);
\node[nw, font=\fnt{6.2}{6.5}] (ein) at (2273,953) {Albert Einstein\\{\color{txtgray}Publishes}\\\textbf{‘General Relativity’}};
\node[pnt, black] (einp) at (2318,970) {};
\draw[black, line width=0.25mm] (einp) -- (einp |- eur);
\node[lt, text=dkgray, font=\fnt{6.3}{7}] (eut2) at (1757,1001) {E\hspace{2.4mm}U\hspace{2.4mm}R\hspace{2.4mm}O\hspace{2.4mm}P\hspace{2.4mm}E};
\node[lt, font=\fnt{6.5}{7}] (yrs) at (1897,1001) {{\color{eurodark}>>>>>>>} \textbf{144 years} {\color{eurodark}>>>>>>>}};
\node[rt, font=\bfseries\fnt{8.5}{9}] (pp) at (1808,1029) {1440};
\node[rt, font=\bfseries\fnt{5.5}{6}] (ppt) at (1807,1040) {Printing Press};
\node[pnt, black] (ppp) at (1814,1039) {};
\draw[black, line width=0.25mm] (ppp) -- (ppp |- eurb);
\node[pnt, black] (leo) at (1821,1031) {};
\draw[black, line width=0.25mm] (leo) -- (leo |- eurb);
\node[nw, font=\bfseries\fnt{5.8}{5.7}] (leot) at (1830,1020) {Leonardo\\da Vinci\\1452};
\node[nw, font=\fnt{5.8}{5.7}] (lor) at (1727,1051) {Lorenzo de’ Medici\\Renaissance patron -\\Art and Philosophy};
\node[sdot, black] (lorp) at (1825,1053) {};
\draw[black, line width=0.2mm] (lorp) -- (lorp |- eurb);
\node[lt, font=\bfseries\fnt{5.5}{6}] (lory) at (1829,1061) {1460};
\node[lt, font=\fnt{5.8}{6.5}] (bot) at (1752,1092) {Sandro Botticelli};
\node[sdot, black, minimum size=1.3mm] (botp) at (1835,1092) {};
\draw[black, line width=0.2mm] (botp) -- (botp |- eurb);
\node[lt, text=dkgray, font=\fnt{7}{8}] (ren1) at (1756,1112) {The};
\node[lt, text=dkgray, font=\fnt{7}{8}] (ren2) at (1756,1127) {RENAISSANCE};
\node[lt, text=dkgray, font=\bfseries\fnt{5.5}{6}] (hum) at (1817,1112) {HUMANISM};
\node[pnt, babyl!60] (y62) at (1917,1028) {};
\draw[babyl!60, ln] (y62) -- (y62 |- eurb);
\node[lt, gr] (y62t) at (1895,1044) {{\fnt{10}{10}1562} {\fnt{6}{6}CE}};
\node[pnt, black] (kep) at (1947,1088) {};
\draw[black, line width=0.25mm] (kep) -- (kep |- eurb);
\node[nw, font=\fnt{6}{6.8}] (kept) at (1902,1083) {\textbf{1609-19}\\\textbf{Johannes Kepler} publishes\\‘Laws of Planetary Motion’};
\node[lt, text=dkgray, font=\fnt{6.8}{7.5}] (scr) at (1893,1128) {SCIENTIFIC REVOLUTION};
\node[lt, gr, font=\fnt{11}{11}] (y25) at (1967,1059) {1625};
\node[pnt, babyl!60] (y25p) at (1986,1046) {};
\draw[babyl!60, ln] (y25p) -- (y25p |- eurb);
\node[sdot, black] (gal) at (2002,1018) {};
\draw[black, line width=0.2mm] (gal) -- (gal |- eurb);
\node[lt, font=\bfseries\fnt{4.5}{5}] (galy) at (2007,1018) {1632};
\node[nw, font=\fnt{4.6}{4.6}] (galt) at (1990,1022) {\textbf{Galileo} publishes\\‘Dialogue...two\\chief world systems’};
\node[pnt, black] (bac) at (1975,1071) {};
\node[lt, font=\bfseries\fnt{5.5}{6}] (bact) at (1982,1071) {Francis Bacon};
\node[lt, gr, font=\fnt{4.8}{5.5}] (baci) at (1982,1081) {‘Inductive Reasoning’};
\node[pnt, black] (y87) at (2055,1029) {};
\coordinate (y87t) at (2055,950);
\draw[black, line width=0.25mm] (y87) -- (y87t);
\node[lt, font=\bfseries\fnt{9.5}{10}] (y87l) at (2061,1029) {1687 {\fnt{6}{6}CE}};
\node[ne, font=\bfseries\fnt{6.6}{6.5}] (rsn) at (2121,1042) {Reason over\\Religion.\\Logic over\\Emotion.};
\node[ne, gr, font=\fnt{5.5}{5.7}] (usc) at (2121,1092) {Using Science\\Big Questions};
\node[lt, text=white!90!black, font=\fnt{7.2}{8}] (enl1) at (2059,1128) {age of};
\node[lt, text=dkgray, font=\fnt{7.5}{8}] (enl2) at (2059,1142) {Enlightenment};
\node[lt, text=orangedk!60, font=\fnt{7.2}{8}] (enl3) at (2059,1157) {EUROPE};
\node[nw, font=\fnt{7}{8.25}] (cop3t) at (1899,1156) {Nicolaus\\Copernicus\\{\color{txtgray}Sun at Center}\\{\color{txtgray}Begins Scientific}\\{\color{txtgray}Revolution}};
\node[rt, font=\bfseries\fnt{9}{9}] (c43) at (1890,1188) {1543 {\fnt{6}{6}CE}};
\node[ne, font=\bfseries\fnt{4.8}{5.4}] (c43t) at (1890,1195) {“On the revolution of\\heavenly spheres.”\\Published};
\coordinate (d40a) at (2012,1142);
\coordinate (d40b) at (2012,1175);
\draw[black, line width=0.25mm] (d40a) -- (d40b);
\node[pnt, black] (d40) at (2012,1204) {};
\node[lt, font=\bfseries\fnt{9}{9}] (d40t) at (1998,1190) {1640};
\node[nw, font=\fnt{5.2}{5.7}] (des) at (2000,1212) {\textbf{Rene Descartes}\\‘I think therefore I am’.\\- \textbf{Cartesian dualism} (or mind-body dualism)\\- \textbf{Deductive Reasoning} = faith in the mind and reason};
\node[pnt, black] (y81) at (2167,1049) {};
\draw[black, line width=0.25mm] (y81) -- (y81 |- eurb);
\node[lt, font=\bfseries\fnt{9}{9}] (y81t) at (2151,1063) {1781};
\node[nw, font=\fnt{6.5}{6.5}] (ura) at (2155,1072) {Uranus\\{\color{txtgray}Discovered}};
\node[pnt, black] (y46) at (2232,1049) {};
\draw[black, line width=0.25mm] (y46) -- (y46 |- eurb);
\node[lt, font=\bfseries\fnt{9}{9}] (y46t) at (2216,1063) {1846};
\node[nw, font=\fnt{6.5}{6.5}] (nep) at (2215,1072) {Neptune\\{\color{txtgray}Discovered}};
\node[ne, font=\fnt{5.3}{5.1}] (kie) at (2229,1010) {Soren\\Kierkegaard\\\textbf{Existentialism}};
\node[pnt, black] (kiep) at (2224,1042) {};
\node[pnt, black] (y76) at (2147,1105) {};
\draw[black, line width=0.25mm] (y76) -- (y76 |- eurb);
\node[lt, font=\bfseries\fnt{9}{9}] (y76t) at (2143,1117) {1776};
\node[lt, font=\bfseries\fnt{6.5}{7}] (wat) at (2143,1129) {James Watt};
\node[lt, gr, font=\fnt{6.5}{7}] (wats) at (2143,1141) {Steam engine};
\node[ne, font=\fnt{5.3}{5.1}] (lif) at (2266,1106) {Life uncoupling from\\natural world.\\Factories.\\Cities};
\node[nw, text=dkgray, font=\fnt{8}{8.25}] (inr) at (2143,1159) {INDUSTRIAL\\REVOLUTION\\{\color{txtgray}Science unlocks industry}};
\node[lt, font=\bfseries\fnt{7}{7}] (y82) at (2262,1018) {1882};
\node[pnt, black] (y82p) at (2293,1020) {};
\draw[black, line width=0.25mm] (y82p) -- (y82p |- eurb);
\node[ne, font=\bfseries\fnt{5.5}{5.4}] (nie) at (2300,1026) {Friedrich\\Nietzsche\\‘god is dead\\and we\\killed him’};
\node[lt, font=\bfseries\fnt{10}{10}] (y16) at (2306,1019) {1916};
\node[nw, font=\fnt{4.8}{4.6}] (jun) at (2315,1042) {Carl Jung\\The Red Book};
\node[lt, font=\bfseries\fnt{10}{10}] (y61) at (2359,1019) {1961};
\coordinate (y69a) at (2392,1008);
\coordinate (y69b) at (2392,1020);
\draw[black, line width=0.25mm] (y69a) -- (y69b);
\node[nw, font=\fnt{4.5}{4.2}] (y69) at (2386,1026) {1969\\moon landing};
\node[pnt, black] (y90) at (2403,1046) {};
\draw[black, line width=0.25mm] (y90) -- (y90 |- eurb);
\node[lt, font=\bfseries\fnt{9}{9}] (y90t) at (2388,1060) {1990};
\node[lt, font=\fnt{6.2}{7}] (y90i) at (2388,1071) {the Internet};
\node[pnt, black] (y12) at (2446,1023) {};
\draw[black, line width=0.25mm] (y12) -- (y12 |- eurb);
\node[lt, font=\bfseries\fnt{9}{9}] (y12t) at (2429,1037) {2012};
\node[nw, font=\fnt{6.2}{6.5}] (hig) at (2440,1046) {\textbf{Higgs Boson}\\{\color{txtgray}like particle}\\{\color{txtgray}discovered}};
\node[pnt, black] (y24) at (2321,1076) {};
\node[lt, font=\bfseries\fnt{9}{9}] (y24t) at (2327,1076) {1924};
\node[nw, font=\fnt{6.8}{6.3}] (boh) at (2328,1085) {\textbf{Niels Bohr} and others\\develop Quantum Physics};
\node[pnt, black] (y00) at (2303,1110) {};
\draw[black, line width=0.25mm] (y00) -- (y00 |- eurb);
\node[lt, font=\bfseries\fnt{9}{9}] (y00t) at (2288,1099) {1900};
\node[nw, font=\fnt{6.8}{6.8}] (pla2) at (2293,1116) {\textbf{Max Planck}\\early Quantum Physics};
\node[sdot, black] (hal) at (2324,1143) {};
\draw[black, line width=0.2mm] (hal) -- (hal |- eurb);
\node[nw, font=\fnt{4.8}{4.6}] (halt) at (2281,1146) {\textbf{Many P. Hall}\\Secret Teachings\\of All Ages};
\node[pnt, black] (y44) at (2352,1160) {};
\draw[black, line width=0.25mm] (y44) -- (y44 |- eurb);
\node[lt, font=\bfseries\fnt{9}{9}] (y44t) at (2345,1171) {1944};
\node[nw, font=\fnt{6.8}{6.8}] (dna) at (2345,1179) {\textbf{DNA Discovered}\\{\color{txtgray}Oswald Avery}};
\node[sdot, black] (y08) at (2314,1190) {};
\draw[black, line width=0.2mm] (y08) -- (y08 |- eurb);
\node[lt, font=\bfseries\fnt{7.5}{8}] (y08t) at (2315,1202) {1908};
\node[lt, font=\bfseries\fnt{5}{6}] (y08m) at (2315,1212) {Model T};
\node[sdot, black] (y88) at (2298,1211) {};
\draw[black, line width=0.2mm] (y88) -- (y88 |- eurb);
\node[lt, font=\bfseries\fnt{7.5}{8}] (y88t) at (2268,1216) {1888};
\node[anchor=north, align=center, font=\fnt{4.8}{5.3}] (bla) at (2283,1221) {\textbf{H. P. Blavatsky}\\The Secret Doctrine\\Theosophy};
\end{tikzpicture}
\end{document}
